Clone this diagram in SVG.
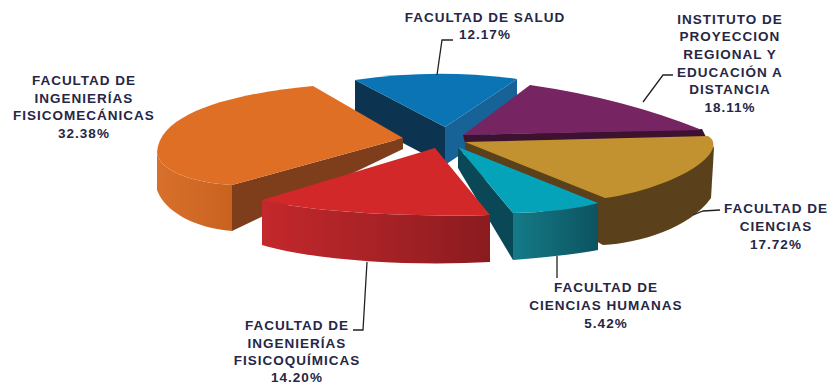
<svg xmlns="http://www.w3.org/2000/svg" width="835" height="385" viewBox="0 0 835 385">
<defs>
<style>
.lbl{font-family:"Liberation Sans",Arial,sans-serif;font-weight:bold;font-size:13.5px;letter-spacing:1px;fill:#262645;text-anchor:middle}
.lead{fill:none;stroke:#222;stroke-width:1.3}
</style>
<linearGradient id="gRed" x1="0" y1="0" x2="1" y2="0">
<stop offset="0" stop-color="#c3282c"/><stop offset="0.5" stop-color="#a82226"/><stop offset="1" stop-color="#8a1b1f"/>
</linearGradient>
<linearGradient id="gOrange" x1="0" y1="0" x2="1" y2="0">
<stop offset="0" stop-color="#d8702b"/><stop offset="1" stop-color="#c8631f"/>
</linearGradient>
<linearGradient id="gTeal" x1="0" y1="0" x2="1" y2="0">
<stop offset="0" stop-color="#157b88"/><stop offset="1" stop-color="#0c5360"/>
</linearGradient>
</defs>
<rect width="835" height="385" fill="#ffffff"/>

<g id="salud">
<path d="M355,80 L445,127 L445,165 L355,118 Z" fill="#0c3450"/>
<path d="M445,127 L517,79 L517,117 L445,165 Z" fill="#176397"/>
<path d="M355,80 Q437,68 517,79 L445,127 Z" fill="#0a74b5"/>
</g>

<g id="instituto">
<path d="M463,135 L702,129 L706,137 L465,143 Z" fill="#3d1231"/>
<path d="M463,135 L530,85 Q624,98.5 702,130 L463,135 Z" fill="#772463"/>
</g>

<g id="ciencias">
<path d="M465,142 L465,168 L603,245 C640,243 690,228 711,198 L714,148 L708,137 Z" fill="#5a411b"/>
<path d="M465,142 L708,136 Q715,140 713,148 C705,170 650,192 605,198 Z" fill="#c1922f"/>
</g>

<g id="fisicomecanicas">
<path d="M232,185 L403,138 L403,149 L232,231 Z" fill="#7e3e1b"/>
<path d="M157,152 C158,168 185,182 232,185 L232,231 C195,228 165,212 157,190 Z" fill="url(#gOrange)"/>
<path d="M313,86 C250,92 160,108 157,152 C158,168 185,182 232,185 L403,138 Z" fill="#e06f26"/>
</g>

<g id="humanas">
<path d="M458,147 L513,213 L513,260 L458,168 Z" fill="#0b4857"/>
<path d="M513,213 C555,212 580,208 598,203 L598,250 C580,253 555,257 513,260 Z" fill="url(#gTeal)"/>
<path d="M458,147 L598,203 C580,208 555,212 513,213 Z" fill="#05a3b9"/>
</g>

<g id="fisicoquimicas">
<path d="M262,200 C320,214 430,217 490,215 L490,262 C420,266 320,262 262,245 Z" fill="url(#gRed)"/>
<path d="M262,200 L435,148 L490,215 C430,217 320,214 262,200 Z" fill="#d2282a"/>
</g>

<g id="connectors">
<polyline class="lead" points="437,75 442,40 453,40"/>
<polyline class="lead" points="643,102 663,75 673,75"/>
<polyline class="lead" points="693,215 703,211 720,210"/>
<polyline class="lead" points="557,256 557,278"/>
<polyline class="lead" points="367,262 363,330 353,330"/>
</g>

<g id="labels">
<text class="lbl" x="485" y="21.5">FACULTAD DE SALUD</text>
<text class="lbl" x="485" y="39">12.17%</text>
<text class="lbl" x="730" y="23.5">INSTITUTO DE</text>
<text class="lbl" x="730" y="41">PROYECCION</text>
<text class="lbl" x="730" y="58.5">REGIONAL Y</text>
<text class="lbl" x="730" y="76.5">EDUCACIÓN A</text>
<text class="lbl" x="730" y="94">DISTANCIA</text>
<text class="lbl" x="730" y="111.5">18.11%</text>
<text class="lbl" x="84" y="85">FACULTAD DE</text>
<text class="lbl" x="84" y="102.5">INGENIERÍAS</text>
<text class="lbl" x="84" y="120">FISICOMECÁNICAS</text>
<text class="lbl" x="84" y="137.5">32.38%</text>
<text class="lbl" x="776" y="213">FACULTAD DE</text>
<text class="lbl" x="776" y="231">CIENCIAS</text>
<text class="lbl" x="776" y="249">17.72%</text>
<text class="lbl" x="606" y="292">FACULTAD DE</text>
<text class="lbl" x="606" y="310">CIENCIAS HUMANAS</text>
<text class="lbl" x="606" y="328">5.42%</text>
<text class="lbl" x="297" y="330">FACULTAD DE</text>
<text class="lbl" x="297" y="347.5">INGENIERÍAS</text>
<text class="lbl" x="297" y="364.5">FISICOQUÍMICAS</text>
<text class="lbl" x="297" y="381.5">14.20%</text>
</g>
</svg>
